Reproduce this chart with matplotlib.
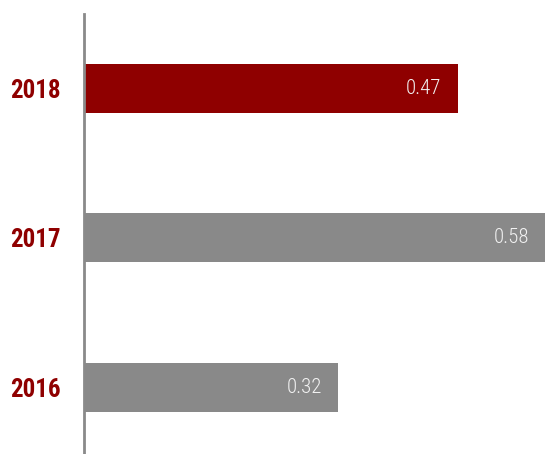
import matplotlib
matplotlib.use('Agg')
from matplotlib import pyplot as plt
from matplotlib import font_manager

years = ['2016', '2017', '2018']
values = [0.32, 0.58, 0.47]
colors = ['#898989', '#898989', '#8f0000']

names = {f.name for f in font_manager.fontManager.ttflist}
narrow = [n for n in ['Liberation Sans Narrow', 'Roboto Condensed', 'DejaVu Sans Condensed']
          if n in names]
plt.rcParams['font.family'] = narrow + ['DejaVu Sans']
plt.rcParams['font.stretch'] = 'condensed'

fig = plt.figure(figsize=(5.45, 4.54), dpi=100)
ax = fig.add_axes([84 / 545, 0, 1 - 84 / 545, 1 - 14 / 454])

ypos = range(len(years))
bars = ax.barh(ypos, values, height=0.328, color=colors, zorder=2)

for b, v in zip(bars, values):
    ax.annotate(f'{v:.2f}', xy=(v, b.get_y() + b.get_height() / 2),
                xytext=(-16, 0), textcoords='offset pixels',
                ha='right', va='center', color='#f2f2f2', fontsize=15,
                fontweight='light')

ax.set_xlim(0, max(values))
ax.set_ylim(-0.445, 2.498)
ax.set_yticks(list(ypos))
ax.set_yticklabels(years, color='#8f0000', fontsize=18, fontweight='bold')
ax.tick_params(axis='y', length=0, pad=17)
ax.set_xticks([])
for s in ['top', 'right', 'bottom']:
    ax.spines[s].set_visible(False)
ax.spines['left'].set_color('#8a8a8a')
ax.spines['left'].set_linewidth(2)
ax.spines['left'].set_zorder(3)

fig.savefig('out.png', dpi=100)
